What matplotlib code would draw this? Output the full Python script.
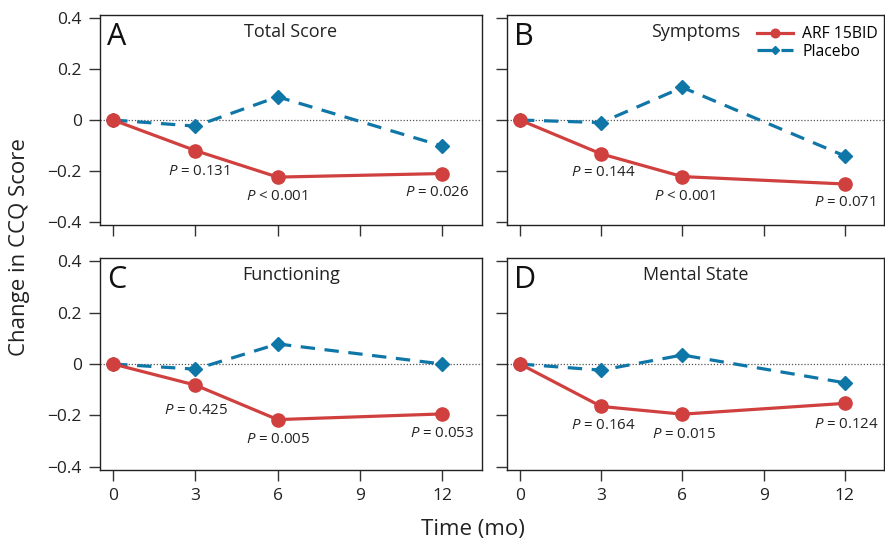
import matplotlib.pyplot as plt

plt.rcParams["font.family"] = ["Open Sans", "DejaVu Sans"]
plt.rcParams["mathtext.fontset"] = "custom"
plt.rcParams["mathtext.it"] = "Open Sans:italic"
plt.rcParams["mathtext.rm"] = "Open Sans"

# ------------------------------------------------------------------------------
# data
# ------------------------------------------------------------------------------
months = [0, 3, 6, 12]
panel_letters = ["A", "B", "C", "D"]
panel_titles = ["Total Score", "Symptoms", "Functioning", "Mental State"]

arf_values = [
    [0, -0.12, -0.224, -0.21],
    [0, -0.133, -0.222, -0.251],
    [0, -0.082, -0.216, -0.194],
    [0, -0.165, -0.195, -0.153],
]
placebo_values = [
    [0, -0.024, 0.091, -0.102],
    [0, -0.01, 0.128, -0.141],
    [0, -0.02, 0.078, 0.0],
    [0, -0.024, 0.035, -0.073],
]
p_labels = [
    ["= 0.131", "< 0.001", "= 0.026"],
    ["= 0.144", "< 0.001", "= 0.071"],
    ["= 0.425", "= 0.005", "= 0.053"],
    ["= 0.164", "= 0.015", "= 0.124"],
]
# pixel offsets of each P label from its point
p_offsets = [
    [(3.5, -21), (-1, -19), (-5.5, -19)],
    [(2.5, -19), (2, -20), (0, -19)],
    [(0.5, -25), (0.5, -20), (-0.5, -20)],
    [(2.5, -19), (1.5, -20), (1.5, -21)],
]

x_ticks = [0, 3, 6, 9, 12]
y_ticks = [-0.4, -0.2, 0, 0.2, 0.4]
y_tick_labels = ["\u22120.4", "\u22120.2", "0", "0.2", "0.4"]

RED = "#d0403f"
BLUE = "#0f76a8"

# axes rectangles in figure fraction [left, bottom, width, height]
positions = [
    [0.1130, 0.5833, 0.4316, 0.3889],
    [0.5729, 0.5833, 0.4260, 0.3889],
    [0.1130, 0.1296, 0.4316, 0.3926],
    [0.5729, 0.1296, 0.4260, 0.3926],
]

fig = plt.figure(figsize=(8.85, 5.40), dpi=100)

for i in range(4):
    ax = fig.add_axes(positions[i])
    ax.set_xlim(-0.48, 13.45)
    ax.set_ylim(-0.412, 0.412)
    for s in ax.spines.values():
        s.set_linewidth(1.0)
        s.set_color("#222222")

    ax.axhline(0, color="#555555", lw=0.9, ls=(0, (1, 1.5)), zorder=1)

    ax.plot(months, placebo_values[i], color=BLUE, lw=2.3, ls=(0, (4.5, 3)),
            marker="D", ms=7, mec=BLUE, mfc=BLUE, zorder=2, label="Placebo")
    ax.plot(months, arf_values[i], color=RED, lw=2.3, marker="o", ms=9.5,
            mec=RED, mfc=RED, zorder=3, label="ARF 15BID")

    for j, lab in enumerate(p_labels[i]):
        ax.annotate(r"$P$ " + lab, (months[j + 1], arf_values[i][j + 1]),
                    xytext=p_offsets[i][j], textcoords="offset pixels",
                    ha="center", va="center", fontsize=10.8, color="#222222")

    ax.text(0.018, 0.857, panel_letters[i], transform=ax.transAxes,
            fontsize=22, va="baseline", ha="left", color="#111111")
    ax.text(0.5, 0.897, panel_titles[i], transform=ax.transAxes,
            fontsize=13, va="baseline", ha="center", color="#222222")

    ax.set_xticks(x_ticks)
    ax.set_yticks(y_ticks)
    ax.tick_params(direction="out", length=8, width=1.0, color="#333333",
                   labelsize=12.5, labelcolor="#222222", pad=5)
    if i % 2 == 0:
        ax.set_yticklabels(y_tick_labels)
    else:
        ax.set_yticklabels([])
    if i < 2:
        ax.set_xticklabels([])

    if i == 1:
        handles, labels = ax.get_legend_handles_labels()
        ax.legend(handles[::-1], labels[::-1], loc="upper right",
                  bbox_to_anchor=(1.02, 1.01), frameon=False,
                  fontsize=11.3, handlelength=2.3, handletextpad=0.6,
                  labelspacing=0.1, markerscale=0.65, borderpad=0.35)

fig.text(0.022, 0.542, "Change in CCQ Score", rotation=90, ha="center",
         va="center", fontsize=16, color="#222222")
fig.text(0.534, 0.009, "Time (mo)", ha="center", va="baseline", fontsize=16,
         color="#222222")

fig.savefig("out.png", dpi=100)
